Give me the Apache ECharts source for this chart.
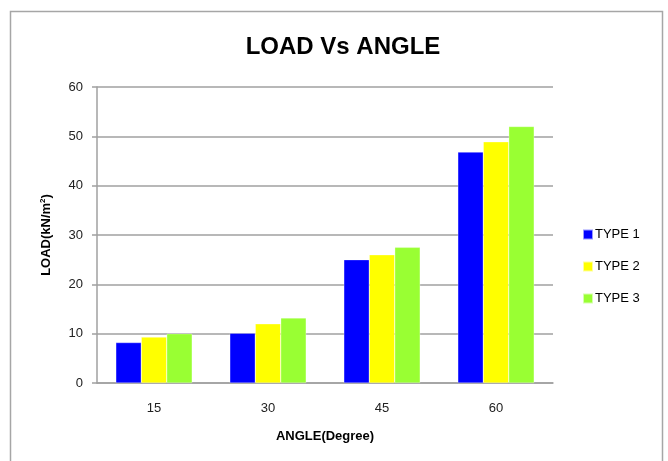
<!DOCTYPE html>
<html>
<head>
<meta charset="utf-8">
<script src="https://cdn.jsdelivr.net/npm/echarts@6/dist/echarts.min.js"></script>
<style>
  html, body { margin: 0; padding: 0; background: #ffffff; }
  #chart { width: 668px; height: 461px; }
</style>
</head>
<body>
<div id="chart"></div>
<script>
// Angles (degrees) on the category axis
const angles = ['15', '30', '45', '60'];

// Load values (kN/m²) per type
const type1 = [8.2, 10.1, 25.0, 46.8];
const type2 = [9.3, 12.0, 26.0, 48.9];
const type3 = [10.0, 13.2, 27.5, 52.0];

const seriesNames = ['TYPE 1', 'TYPE 2', 'TYPE 3'];
const seriesColors = ['#0000ff', '#ffff00', '#99ff33'];

const font = 'Liberation Sans, Arial, sans-serif';

const chart = echarts.init(document.getElementById('chart'), null, { renderer: 'canvas' });

const makeSeries = (name, data, color) => ({
  name: name,
  type: 'bar',
  data: data,
  barGap: '0%',
  barCategoryGap: '33%',
  itemStyle: { color: color, borderColor: 'rgba(255,255,255,0.6)', borderWidth: 0.5 },
  emphasis: { disabled: true }
});

chart.setOption({
  animation: false,
  backgroundColor: '#ffffff',
  graphic: [{
    type: 'rect',
    shape: { x: 10.5, y: 11.5, width: 652, height: 470 },
    style: { fill: 'none', stroke: '#a6a6a6', lineWidth: 1.5 },
    silent: true
  }],
  title: {
    text: 'LOAD Vs ANGLE',
    left: 338,
    textAlign: 'center',
    top: 30,
    textStyle: { fontFamily: font, fontWeight: 'bold', fontSize: 24, color: '#000000' }
  },
  legend: {
    orient: 'vertical',
    left: 582,
    top: 228,
    padding: 0,
    itemWidth: 10,
    itemHeight: 10,
    itemGap: 19,
    icon: 'rect',
    data: seriesNames,
    textStyle: { fontFamily: font, fontSize: 13, color: '#000000', padding: [0, 0, 0, -3] }
  },
  grid: { left: 97, right: 115, top: 87, bottom: 78, containLabel: false },
  xAxis: {
    type: 'category',
    data: angles,
    name: 'ANGLE(Degree)',
    nameLocation: 'middle',
    nameGap: 47,
    nameTextStyle: { fontFamily: font, fontWeight: 'bold', fontSize: 13, color: '#000000' },
    axisLine: { lineStyle: { color: '#a0a0a0', width: 1.5 } },
    axisTick: { show: false },
    axisLabel: { fontFamily: font, fontSize: 13, color: '#222222', margin: 19 }
  },
  yAxis: {
    type: 'value',
    min: 0,
    max: 60,
    interval: 10,
    name: '{b|LOAD(kN/m}{s|2}{b|)}',
    nameLocation: 'middle',
    nameGap: 44,
    nameTextStyle: {
      rich: {
        b: { fontFamily: font, fontWeight: 'bold', fontSize: 13, color: '#000000' },
        s: { fontFamily: font, fontWeight: 'bold', fontSize: 8, color: '#000000', verticalAlign: 'top', padding: [0, 0, 6, 0] }
      }
    },
    axisLine: { show: true, lineStyle: { color: '#a0a0a0', width: 1.5 } },
    axisTick: { show: true, length: 5, lineStyle: { color: '#a0a0a0', width: 1.5 } },
    axisLabel: { fontFamily: font, fontSize: 13, color: '#222222', margin: 14 },
    splitLine: { lineStyle: { color: '#a0a0a0', width: 1.5 } }
  },
  series: [
    makeSeries(seriesNames[0], type1, seriesColors[0]),
    makeSeries(seriesNames[1], type2, seriesColors[1]),
    makeSeries(seriesNames[2], type3, seriesColors[2])
  ]
});
</script>
</body>
</html>
